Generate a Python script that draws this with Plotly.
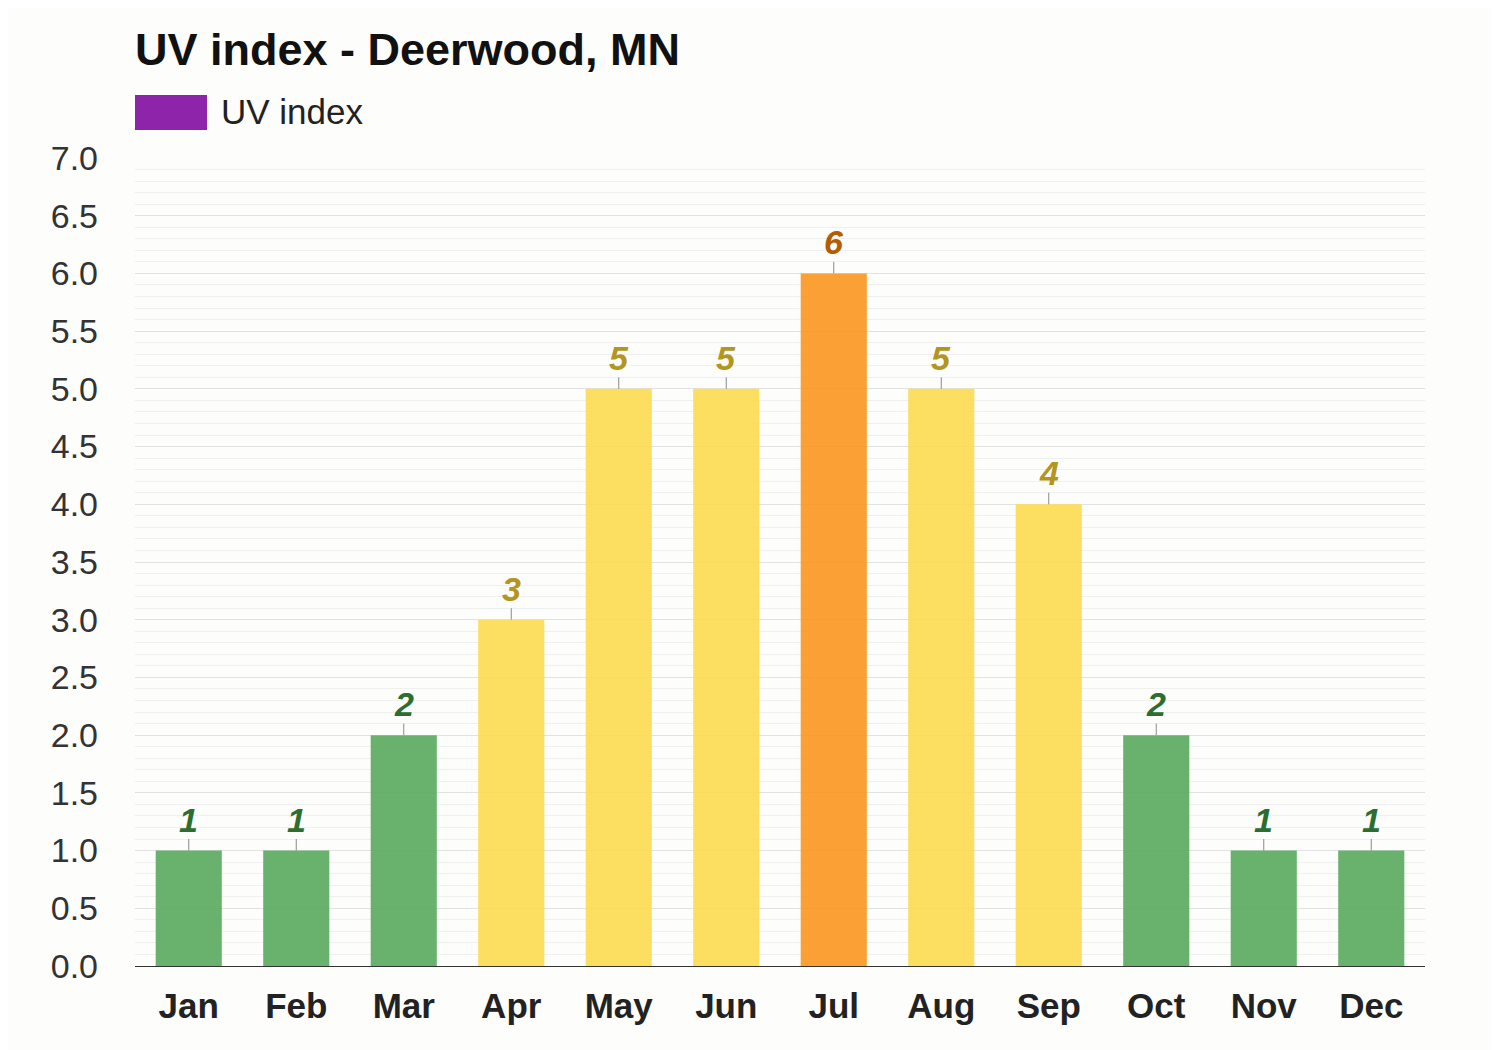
import plotly.graph_objects as go

months = ["Jan", "Feb", "Mar", "Apr", "May", "Jun", "Jul", "Aug", "Sep", "Oct", "Nov", "Dec"]
uv_index = [1, 1, 2, 3, 5, 5, 6, 5, 4, 2, 1, 1]

# colour by UV risk band
def bar_color(v):
    if v <= 2:
        return "rgba(94,172,99,0.93)"
    if v <= 5:
        return "rgba(252,219,80,0.9)"
    return "rgba(250,150,30,0.9)"

def label_color(v):
    if v <= 2:
        return "#2b6e2f"
    if v <= 5:
        return "#b3961f"
    return "#b35c00"

fig = go.Figure()

fig.add_trace(go.Bar(
    x=months,
    y=uv_index,
    marker_color=[bar_color(v) for v in uv_index],
    marker_line_width=0,
    error_y=dict(type="data", symmetric=False, array=[0.1] * len(uv_index),
                 arrayminus=[0] * len(uv_index), width=0, thickness=1, color="#8a8a8a"),
    showlegend=False,
    hoverinfo="x+y",
))

for m, v in zip(months, uv_index):
    fig.add_annotation(
        x=m, y=v, xref="x", yref="y",
        text="<b><i>%d</i></b>" % v,
        showarrow=False, yanchor="bottom", yshift=10,
        font=dict(family="Liberation Sans, Arial", size=34, color=label_color(v)),
    )

# legend swatch + label
fig.add_shape(type="rect", xref="paper", yref="paper",
              x0=0, x1=72 / 1290, y0=1 + (158 - 130) / 808, y1=1 + (158 - 95) / 808,
              fillcolor="#8e24aa", line_width=0)
fig.add_annotation(xref="paper", yref="paper", x=84 / 1290, y=1 + (158 - 112) / 808,
                   xanchor="left", yanchor="middle", showarrow=False,
                   text="UV index", font=dict(size=35, color="#222222"))

# page has an 8px body margin, so the figure is 8px smaller each way
fig.update_layout(
    width=1492,
    height=1042,
    margin=dict(l=127, r=75, t=150, b=84),
    paper_bgcolor="#fdfdfc",
    plot_bgcolor="#fdfdfc",
    font=dict(family="Liberation Sans, Arial", color="#333333"),
    title=dict(text="<b>UV index - Deerwood, MN</b>", x=127 / 1492, xanchor="left",
               y=1 - 41 / 1042, yanchor="middle", yref="container",
               font=dict(size=45, color="#111111")),
    bargap=0.385,
)

fig.update_yaxes(
    range=[0, 7.0],
    dtick=0.5,
    tickformat=".1f",
    showgrid=True,
    gridcolor="#e2e2e2",
    gridwidth=1,
    minor=dict(dtick=0.1, showgrid=True, gridcolor="#f0f0f0", gridwidth=1),
    zeroline=False,
    tickfont=dict(size=34, color="#333333"),
    ticklabelstandoff=36,
    fixedrange=True,
)
fig.update_xaxes(
    showline=True,
    linecolor="#333333",
    linewidth=1,
    tickfont=dict(size=35, color="#222222", family="Liberation Sans, Arial"),
    tickprefix="<b>", ticksuffix="</b>",
    ticklabelstandoff=9,
    fixedrange=True,
)

fig.write_html("out.html")
